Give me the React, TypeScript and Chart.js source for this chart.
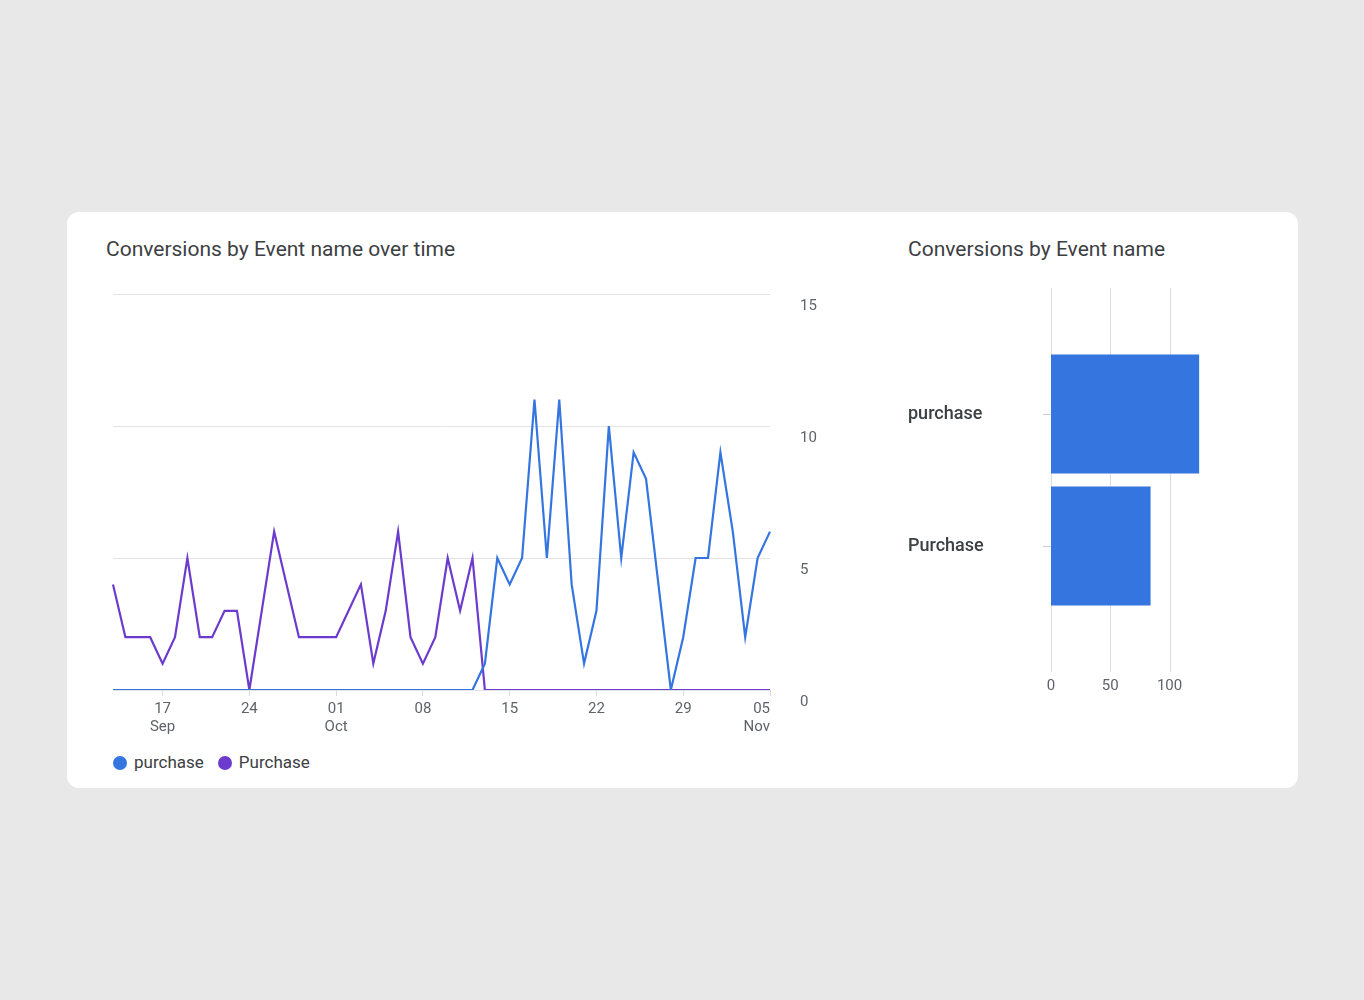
import React, { useEffect, useRef } from "react";
import { Chart, registerables } from "chart.js";
Chart.register(...registerables);

const dates: string[] = [];
{
  const d = new Date(2023, 8, 13);
  for (let i = 0; i < 54; i++) {
    dates.push(`${d.getMonth() + 1}/${d.getDate()}`);
    d.setDate(d.getDate() + 1);
  }
}
const tickLabels: Record<number, string[]> = {
  4: ["17", "Sep"], 11: ["24"], 18: ["01", "Oct"], 25: ["08"], 32: ["15"], 39: ["22"], 46: ["29"], 53: ["05", "Nov"],
};
const purchaseLower = [
  0, 0, 0, 0, 0, 0, 0, 0, 0, 0, 0, 0, 0, 0, 0, 0, 0, 0, 0, 0, 0, 0, 0, 0, 0, 0, 0, 0, 0, 0,
  1, 5, 4, 5, 11, 5, 11, 4, 1, 3, 10, 5, 9, 8, 4, 0, 2, 5, 5, 9, 6, 2, 5, 6,
];
const purchaseUpper = [
  4, 2, 2, 2, 1, 2, 5, 2, 2, 3, 3, 0, 3, 6, 4, 2, 2, 2, 2, 3, 4, 1, 3, 6, 2, 1, 2, 5, 3, 5,
  0, 0, 0, 0, 0, 0, 0, 0, 0, 0, 0, 0, 0, 0, 0, 0, 0, 0, 0, 0, 0, 0, 0, 0,
];
const barCategories = ["purchase", "Purchase"];
const barValues = [125, 84];
const barTicks = [0, 50, 100];

const BLUE = "#3575e0";
const PURPLE = "#6c3bcd";
const FONT = "Roboto";

export default function App() {
  const lineRef = useRef<HTMLCanvasElement>(null);
  const barRef = useRef<HTMLCanvasElement>(null);
  useEffect(() => {
    const line = new Chart(lineRef.current!, {
      type: "line",
      data: {
        labels: dates,
        datasets: [
          { label: "purchase", data: purchaseLower, borderColor: BLUE, borderWidth: 2.2, pointRadius: 0, tension: 0 },
          { label: "Purchase", data: purchaseUpper, borderColor: PURPLE, borderWidth: 2.2, pointRadius: 0, tension: 0 },
        ],
      },
      options: {
        animation: false, responsive: false, maintainAspectRatio: false,
        layout: { padding: { left: 5, top: 10, right: 0, bottom: 0 } },
        plugins: { legend: { display: false }, tooltip: { enabled: false } },
        scales: {
          x: {
            offset: false,
            grid: { display: true, drawOnChartArea: false, drawTicks: true, tickLength: 6, color: (c: any) => (tickLabels[c.index] ? "#dadce0" : "transparent") },
            border: { display: false },
            afterFit: (s: any) => { s.height = 55; },
            ticks: {
              autoSkip: false, maxRotation: 0, padding: 4, align: "inner", color: "#5f6368", font: { family: FONT, size: 15 },
              callback: (_v: any, i: number) => tickLabels[i] || "",
            },
          },
          y: {
            position: "right", min: 0, max: 15,
            grid: { color: "#e3e3e3", drawTicks: false },
            border: { display: false },
            afterFit: (s: any) => { s.width = 70; },
            ticks: { stepSize: 5, padding: 30, labelOffset: 12, color: "#5f6368", font: { family: FONT, size: 15 } },
          },
        },
      },
    });
    const gridPlugin = {
      id: "fullGrid",
      beforeDatasetsDraw(chart: any) {
        const ctx = chart.ctx; const xs = chart.scales.x;
        ctx.save(); ctx.strokeStyle = "#dadce0"; ctx.lineWidth = 1;
        for (const v of barTicks) {
          const px = Math.round(xs.getPixelForValue(v)) + 0.5;
          ctx.beginPath(); ctx.moveTo(px, 8); ctx.lineTo(px, 392); ctx.stroke();
        }
        ctx.restore();
      },
    };
    const bar = new Chart(barRef.current!, {
      type: "bar",
      data: { labels: barCategories, datasets: [{ data: barValues, backgroundColor: BLUE, barPercentage: 0.9, categoryPercentage: 1 }] },
      options: {
        indexAxis: "y", animation: false, responsive: false, maintainAspectRatio: false,
        layout: { padding: { top: 68, right: 4, left: 8, bottom: 0 } },
        plugins: { legend: { display: false }, tooltip: { enabled: false } },
        scales: {
          x: {
            min: 0, max: 126,
            grid: { display: false }, border: { display: false },
            afterBuildTicks: (s: any) => { s.ticks = barTicks.map((v) => ({ value: v })); },
            afterFit: (s: any) => { s.height = 100; },
            ticks: { padding: 57, color: "#5f6368", font: { family: FONT, size: 15 } },
          },
          y: {
            grid: { drawOnChartArea: false, offset: false, tickLength: 8, color: "#d0d0d0" }, border: { display: false },
            afterFit: (s: any) => { s.width = 143; },
            ticks: { crossAlign: "far", color: "#3c4043", font: { family: FONT, size: 18, weight: 500 } },
          },
        },
      },
      plugins: [gridPlugin],
    });
    return () => { line.destroy(); bar.destroy(); };
  }, []);

  const title: React.CSSProperties = { position: "absolute", fontFamily: FONT, fontSize: 21, color: "#3c4043", fontWeight: 400 };
  const dot = (c: string): React.CSSProperties => ({ display: "inline-block", width: 14, height: 14, borderRadius: 7, background: c, marginRight: 7, verticalAlign: "-2px" });
  return (
    <div style={{ position: "fixed", left: 0, top: 0, width: 1364, height: 1000, background: "#e8e8e8" }}>
      <div style={{ position: "absolute", left: 67, top: 212, width: 1231, height: 576, background: "#fff", borderRadius: 12 }} />
      <div style={{ ...title, left: 106, top: 237 }}>Conversions by Event name over time</div>
      <div style={{ ...title, left: 908, top: 237 }}>Conversions by Event name</div>
      <canvas ref={lineRef} width={732} height={490} style={{ position: "absolute", left: 108, top: 255, width: 732, height: 490 }} />
      <canvas ref={barRef} width={340} height={432} style={{ position: "absolute", left: 900, top: 280, width: 340, height: 432 }} />
      <div style={{ position: "absolute", left: 113, top: 752, fontFamily: FONT, fontSize: 17, color: "#3c4043" }}>
        <span style={dot(BLUE)} />purchase
        <span style={{ ...dot(PURPLE), marginLeft: 14 }} />Purchase
      </div>
    </div>
  );
}
